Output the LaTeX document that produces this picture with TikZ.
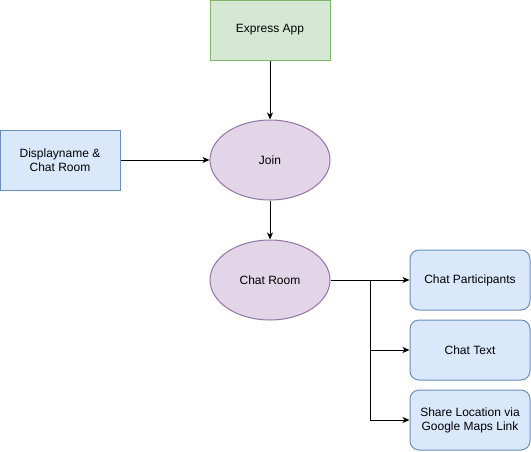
\documentclass[tikz,border=0pt]{standalone}
\usepackage{fontspec}
\setmainfont{Liberation Sans}
\usetikzlibrary{arrows.meta,shapes.geometric}
\definecolor{gfill}{HTML}{D5E8D4}\definecolor{gdraw}{HTML}{82B366}
\definecolor{pfill}{HTML}{E1D5E7}\definecolor{pdraw}{HTML}{9673A6}
\definecolor{bfill}{HTML}{DAE8FC}\definecolor{bdraw}{HTML}{6C8EBF}
\begin{document}
\begin{tikzpicture}[x=1pt,y=-1pt,
  every node/.style={font=\fontsize{12}{14}\selectfont, align=center, line width=1pt},
  greenbox/.style={draw=gdraw, fill=gfill, minimum width=120pt, minimum height=60pt, inner sep=0pt},
  bluebox/.style={draw=bdraw, fill=bfill, minimum width=120pt, minimum height=60pt, inner sep=0pt},
  roundbox/.style={bluebox, rounded corners=9pt},
  oval/.style={ellipse, draw=pdraw, fill=pfill, minimum width=120pt, minimum height=80pt, inner sep=0pt},
  conn/.style={line width=1pt, -{Stealth[length=7pt,width=6pt,inset=2pt]}}
]
\useasboundingbox (0,0) rectangle (531,451);
\node[greenbox] (app) at (270,30) {Express App};
\node[oval] (join) at (270,160) {Join};
\node[bluebox] (disp) at (60,160) {Displayname \&\\Chat Room};
\node[oval] (room) at (270,280) {Chat Room};
\node[roundbox] (part) at (470,280) {Chat Participants};
\node[roundbox] (text) at (470,350) {Chat Text};
\node[roundbox] (share) at (470,420) {Share Location via\\Google Maps Link};
\coordinate (br) at (370,280);
\draw[conn] (app) -- (join);
\draw[conn] (disp) -- (join);
\draw[conn] (join) -- (room);
\draw[conn] (room) -- (part);
\draw[conn] (br) |- (text);
\draw[conn] (br) |- (share);
\end{tikzpicture}
\end{document}
